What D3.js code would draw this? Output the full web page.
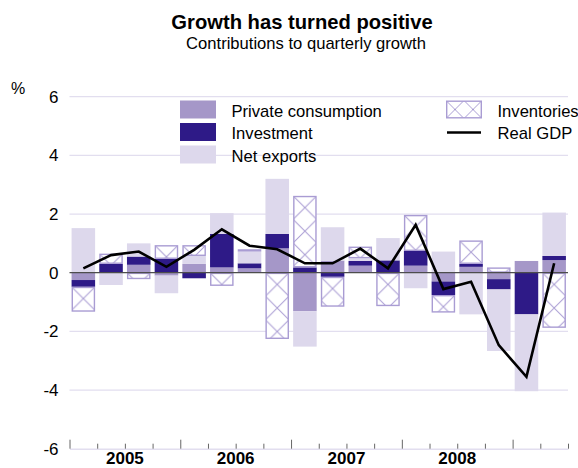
<!DOCTYPE html>
<html>
<head>
<meta charset="utf-8">
<script src="https://cdn.jsdelivr.net/npm/d3@7"></script>
<style>
  html, body { margin: 0; padding: 0; background: #fff; }
  svg { display: block; font-family: "Liberation Sans", Arial, Helvetica, sans-serif; }
</style>
</head>
<body>
<svg id="chart" width="578" height="468"></svg>
<script>
// ---- data ----
const quarters = ["2005Q1","2005Q2","2005Q3","2005Q4","2006Q1","2006Q2","2006Q3","2006Q4",
                  "2007Q1","2007Q2","2007Q3","2007Q4","2008Q1","2008Q2","2008Q3","2008Q4",
                  "2009Q1","2009Q2"];
const years = ["2005","2006","2007","2008"];
const consumption = [-0.25, 0.0, 0.27, -0.1, 0.3, 0.18, 0.15, 0.83, -1.31, 0.41, 0.24, 0.0, 0.24, -0.3, 0.2, -0.22, 0.4, 0.43];
const investment  = [-0.23, 0.3, 0.28, 0.47, -0.19, 1.14, 0.17, 0.49, 0.18, -0.14, 0.16, 0.42, 0.5, -0.46, 0.1, -0.35, -1.42, 0.14];
const netExports  = [1.52, -0.42, 0.45, -0.6, 0.27, 0.71, 0.4, 1.88, -1.21, 1.14, 0.09, 0.76, -0.53, 0.72, -1.42, -2.1, -2.62, 1.48];
const inventories = [-0.85, 0.35, -0.22, 0.47, 0.37, -0.45, 0.08, -2.26, 2.44, -1.02, 0.4, -1.14, 1.23, -0.6, 0.8, 0.18, 0.0, -1.88];
const realGDP     = [0.15, 0.6, 0.72, 0.2, 0.78, 1.48, 0.92, 0.8, 0.32, 0.32, 0.82, 0.15, 1.63, -0.56, -0.31, -2.47, -3.55, 0.32];
const yTicks = [-6, -4, -2, 0, 2, 4, 6];
const seriesNames = ["Private consumption", "Investment", "Net exports", "Inventories"];
const lineName = "Real GDP";
const title = "Growth has turned positive";
const subtitle = "Contributions to quarterly growth";
const unitLabel = "%";

// ---- styles ----
const colors = {
  "Private consumption": "#a597c8",
  "Investment": "#2e1a87",
  "Net exports": "#ddd8ec",
  "Inventories": "#fff"
};
const hatchColor = "#a99cd3";
const gridColor = "#e2deef";

// ---- setup ----
const svg = d3.select("#chart");
const mLeft = 69.5, mRight = 568, mTop = 96.7, mBottom = 448.7;

const x = d3.scaleBand().domain(quarters).range([mLeft, mRight]).paddingInner(0.15).paddingOuter(0.075);
const xq = d3.scaleLinear().domain([0, quarters.length]).range([mLeft, mRight]);
const y = d3.scaleLinear().domain([-6, 6]).range([mBottom, mTop]);

const table = quarters.map((q, i) => ({
  q,
  "Private consumption": consumption[i],
  "Investment": investment[i],
  "Net exports": netExports[i],
  "Inventories": inventories[i]
}));
const stacked = d3.stack().keys(seriesNames).offset(d3.stackOffsetDiverging)(table);

// titles
svg.append("text").attr("x", 302).attr("y", 29).attr("text-anchor", "middle")
  .attr("font-weight", "bold").attr("font-size", 20.2).text(title);
svg.append("text").attr("x", 306).attr("y", 49).attr("text-anchor", "middle")
  .attr("font-size", 16.6).text(subtitle);
svg.append("text").attr("x", 11).attr("y", 94).attr("font-size", 16).text(unitLabel);

// gridlines
svg.append("g").selectAll("line").data(yTicks.filter(v => v !== 0 && v !== -6)).join("line")
  .attr("x1", mLeft).attr("x2", mRight).attr("y1", d => y(d)).attr("y2", d => y(d))
  .attr("stroke", gridColor).attr("stroke-width", 1.2);

// y axis labels
const yAxis = svg.append("g").attr("transform", `translate(${mLeft},0)`)
  .call(d3.axisLeft(y).tickValues(yTicks).tickSize(0).tickPadding(11).tickFormat(d => String(d)));
yAxis.select(".domain").remove();
yAxis.selectAll("text").attr("font-size", 17).attr("font-family", "Liberation Sans, Arial, sans-serif").attr("fill", "#000");

// hatch patterns
const defs = svg.append("defs");
const bw = x.bandwidth();

// bars
const layers = svg.append("g").selectAll("g").data(stacked).join("g");
layers.each(function(layer) {
  const g = d3.select(this);
  const key = layer.key;
  layer.forEach((d, i) => {
    const v0 = d[0], v1 = d[1];
    if (Math.abs(v1 - v0) < 1e-9) return;
    const yTop = y(Math.max(v0, v1)), yBot = y(Math.min(v0, v1));
    const xx = x(quarters[i]);
    if (key === "Inventories") {
      const pid = "hatch" + i;
      const p = defs.append("pattern").attr("id", pid).attr("patternUnits", "userSpaceOnUse")
        .attr("x", xx).attr("y", yTop).attr("width", bw).attr("height", bw);
      p.append("rect").attr("width", bw).attr("height", bw).attr("fill", "#fff");
      p.append("path").attr("d", `M0,0L${bw},${bw}M${bw},0L0,${bw}`)
        .attr("stroke", hatchColor).attr("stroke-width", 1).attr("fill", "none");
      g.append("rect").attr("x", xx + 0.7).attr("y", yTop + 0.7)
        .attr("width", bw - 1.4).attr("height", Math.max(0, yBot - yTop - 1.4))
        .attr("fill", `url(#${pid})`).attr("stroke", hatchColor).attr("stroke-width", 1.4);
    } else {
      g.append("rect").attr("x", xx).attr("y", yTop).attr("width", bw).attr("height", yBot - yTop)
        .attr("fill", colors[key]);
    }
  });
});

// zero line
svg.append("line").attr("x1", mLeft).attr("x2", mRight).attr("y1", y(0)).attr("y2", y(0))
  .attr("stroke", "#4d4d4d").attr("stroke-width", 1.3);

// GDP line
const line = d3.line().x((d, i) => x(quarters[i]) + bw / 2).y(d => y(d));
svg.append("path").datum(realGDP).attr("d", line).attr("fill", "none")
  .attr("stroke", "#000").attr("stroke-width", 2.6).attr("stroke-linejoin", "miter");

// bottom axis
const xAxis = svg.append("g").attr("transform", `translate(0,${mBottom})`)
  .call(d3.axisTop(xq).tickValues(d3.range(quarters.length + 1)).tickSize(5).tickSizeOuter(0).tickFormat(""));
xAxis.select(".domain").attr("stroke", gridColor).attr("stroke-width", 1.4);
xAxis.selectAll(".tick line").attr("stroke", "#666").attr("stroke-width", 1)
  .attr("y2", d => (d % 4 === 0 && d < quarters.length) ? -9 : -5);

svg.append("g").selectAll("text").data(years).join("text")
  .attr("x", (d, i) => xq(i * 4 + 2)).attr("y", 464).attr("text-anchor", "middle")
  .attr("font-weight", "bold").attr("font-size", 17).text(d => d);

// legend
const leg = svg.append("g");
const legRows = [
  { name: "Private consumption", x: 180, y: 100.5 },
  { name: "Investment", x: 180, y: 123 },
  { name: "Net exports", x: 180, y: 145.5 },
  { name: "Inventories", x: 446, y: 100.5 },
  { name: "Real GDP", x: 446, y: 123 }
];
const sw = 36, sh = 18;
legRows.forEach(r => {
  if (r.name === "Real GDP") {
    leg.append("line").attr("x1", r.x + 1).attr("x2", r.x + sw - 1).attr("y1", r.y + 9.5).attr("y2", r.y + 9.5)
      .attr("stroke", "#000").attr("stroke-width", 2.6);
  } else if (r.name === "Inventories") {
    const p = defs.append("pattern").attr("id", "hatchLeg").attr("patternUnits", "userSpaceOnUse")
      .attr("x", r.x).attr("y", r.y).attr("width", sh).attr("height", sh);
    p.append("rect").attr("width", sh).attr("height", sh).attr("fill", "#fff");
    p.append("path").attr("d", `M0,0L${sh},${sh}M${sh},0L0,${sh}`).attr("stroke", hatchColor).attr("stroke-width", 1);
    leg.append("rect").attr("x", r.x + 0.7).attr("y", r.y + 0.7).attr("width", sw - 1.4).attr("height", sh - 1.4)
      .attr("fill", "url(#hatchLeg)").attr("stroke", hatchColor).attr("stroke-width", 1.4);
  } else {
    leg.append("rect").attr("x", r.x).attr("y", r.y).attr("width", sw).attr("height", sh).attr("fill", colors[r.name]);
  }
  leg.append("text").attr("x", r.x + 51.5).attr("y", r.y + 16).attr("font-size", 16.6).text(r.name);
});
</script>
</body>
</html>
